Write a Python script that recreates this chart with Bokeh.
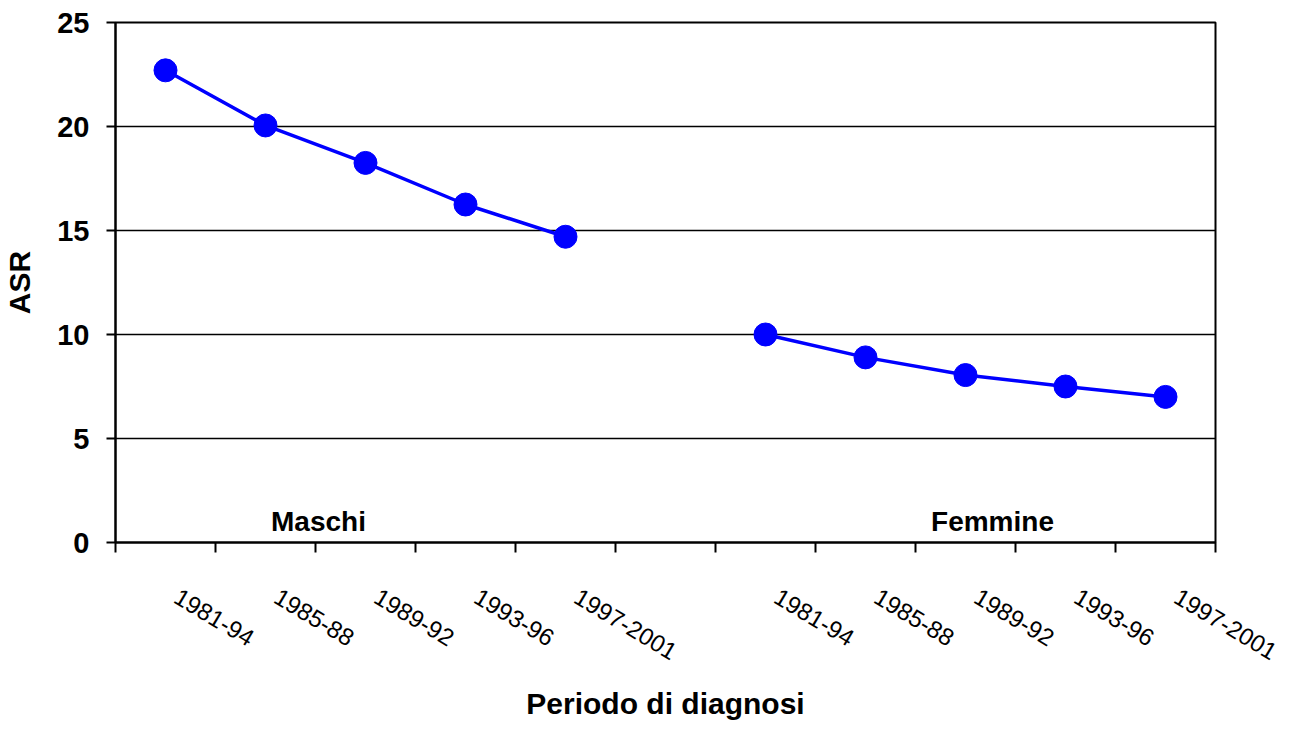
from bokeh.plotting import figure
from bokeh.models import FixedTicker, Label, Range1d
from bokeh.embed import file_html
from bokeh.resources import INLINE

periods = ["1981-94", "1985-88", "1989-92", "1993-96", "1997-2001"]
maschi = [22.7, 20.05, 18.25, 16.25, 14.7]
femmine = [10.0, 8.9, 8.05, 7.5, 7.0]
groups = ["Maschi", "Femmine"]
y_ticks = [0, 5, 10, 15, 20, 25]

n = len(periods)
slots = 2 * n + 1
x_m = [i + 0.5 for i in range(n)]
x_f = [n + 1 + i + 0.5 for i in range(n)]
label_shift = 0.11  # labels start slightly right of the category centre

BLUE = "#0000FF"
FONT = "Liberation Sans"

p = figure(width=1287, height=723, output_backend="svg", toolbar_location=None,
           x_range=Range1d(0, slots), y_range=Range1d(0, 25),
           min_border_left=115, min_border_right=72, min_border_top=22,
           min_border_bottom=180)

p.background_fill_color = "white"
p.border_fill_color = "white"
p.outline_line_color = "black"
p.outline_line_width = 2

p.xgrid.visible = False
p.ygrid.grid_line_color = "black"
p.ygrid.grid_line_width = 1.5
p.ygrid.ticker = FixedTicker(ticks=y_ticks)

for xs, ys in ((x_m, maschi), (x_f, femmine)):
    p.line(xs, ys, line_color=BLUE, line_width=3.5)
    p.scatter(xs, ys, size=23, fill_color=BLUE, line_color=BLUE)

# x axis
lab_pos = [x + label_shift for x in x_m + x_f]
xa = p.xaxis[0]
xa.ticker = FixedTicker(ticks=lab_pos, minor_ticks=list(range(slots + 1)))
xa.major_label_overrides = {x: lab for x, lab in zip(lab_pos, periods + periods)}
xa.major_tick_out = 0
xa.major_tick_in = 0
xa.minor_tick_out = 10
xa.minor_tick_in = 0
xa.minor_tick_line_color = "black"
xa.minor_tick_line_width = 2
xa.axis_line_color = "black"
xa.axis_line_width = 2
xa.major_label_orientation = -0.54
xa.major_label_standoff = 42
xa.major_label_text_font = FONT
xa.major_label_text_font_size = "24px"
xa.major_label_text_color = "black"
xa.axis_label = "Periodo di diagnosi"
xa.axis_label_text_font = FONT
xa.axis_label_text_font_size = "30px"
xa.axis_label_text_font_style = "bold"
xa.axis_label_text_color = "black"
xa.axis_label_standoff = 16

# y axis
ya = p.yaxis[0]
ya.ticker = FixedTicker(ticks=y_ticks)
ya.major_tick_out = 9
ya.major_tick_in = 0
ya.major_tick_line_width = 2
ya.minor_tick_line_color = None
ya.axis_line_width = 2
ya.major_label_standoff = 17
ya.major_label_text_font = FONT
ya.major_label_text_font_size = "29px"
ya.major_label_text_font_style = "bold"
ya.major_label_text_color = "black"
ya.axis_label = "ASR"
ya.axis_label_text_font = FONT
ya.axis_label_text_font_size = "30px"
ya.axis_label_text_font_style = "bold"
ya.axis_label_text_color = "black"
ya.axis_label_standoff = 18

# group labels
for gx, name in ((2.03, groups[0]), (8.77, groups[1])):
    p.add_layout(Label(x=gx, y=1.0, text=name, text_align="center",
                       text_baseline="alphabetic", text_font=FONT,
                       text_font_size="28px", text_font_style="bold",
                       text_color="black"))

open("out.html", "w").write(file_html(p, INLINE))
